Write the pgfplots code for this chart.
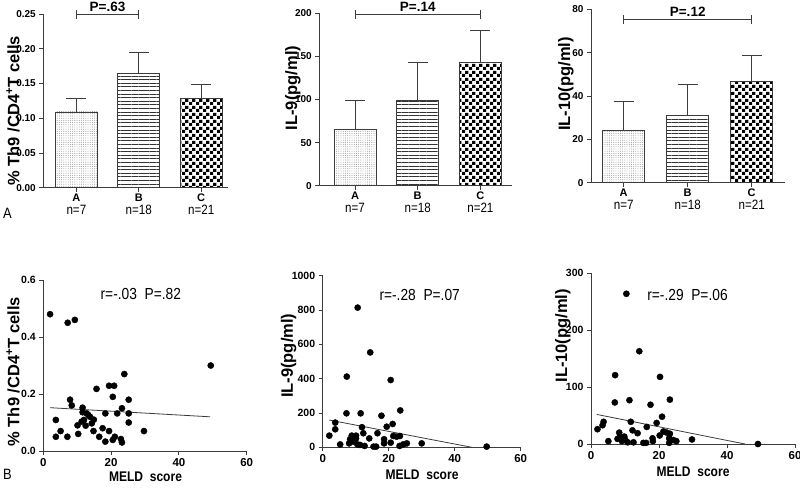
\documentclass[border=0pt]{standalone}
\usepackage{fontspec}
\setmainfont{Liberation Sans}
\usepackage{graphicx}
\usepackage{pgfplots}
\pgfplotsset{compat=1.18}
\usetikzlibrary{patterns,patterns.meta}

\definecolor{edge}{RGB}{60,60,60}
\newcommand{\narrow}[1]{\scalebox{0.86}[1]{#1}}
\newcommand{\cat}[2]{{\fontsize{11}{12}\selectfont\bfseries #1}\\[1pt]{\fontsize{13.5}{15}\selectfont\narrow{n=#2}}}

\tikzdeclarepattern{
  name=checker,
  type=uncolored,
  bounding box={(0pt,0pt) and (7pt,7pt)},
  tile size={(7pt,7pt)},
  code={\fill (0pt,0pt) rectangle (3.5pt,3.5pt); \fill (3.5pt,3.5pt) rectangle (7pt,7pt);}
}

\pgfplotsset{
  panel/.style={
    scale only axis,
    axis lines=left,
    axis line style={edge, line width=0.9pt, -},
    tick style={edge, line width=0.9pt},
    tick align=outside,
    major tick length=4pt,
    clip=false,
  },
  barpanel/.style={
    panel,
    xtick={0,1,2},
    xticklabels={\cat{A}{7},\cat{B}{18},\cat{C}{21}},
    xticklabel style={align=center, inner sep=2pt},
    yticklabel style={font=\fontsize{10}{11}\selectfont\bfseries},
  },
  scatpanel/.style={
    panel,
    xmin=0, xmax=60,
    xtick={0,20,40,60},
    xticklabels={0,20,40,60},
    xticklabel style={font=\fontsize{11.5}{12}\selectfont\bfseries},
    yticklabel style={font=\fontsize{10.5}{11}\selectfont\bfseries},
  },
  bar/.style={ybar, bar shift=0pt, bar width=42pt, draw=edge, line width=0.9pt,
    /pgfplots/error bars/y dir=plus,
    /pgfplots/error bars/y explicit,
    /pgfplots/error bars/error bar style={edge, line width=0.9pt},
    /pgfplots/error bars/error mark options={edge, line width=0.9pt, mark size=10pt, rotate=90}},
  barA/.style={bar, pattern={Dots[distance=2.2pt,radius=0.45pt]}, pattern color=black!50},
  barB/.style={bar, pattern={Lines[angle=0,distance=3.6pt,line width=0.8pt]}, pattern color=black!80},
  barC/.style={bar, pattern=checker, pattern color=black},
  dots/.style={only marks, mark=*, mark size=3.1pt, black},
  fit/.style={edge, line width=0.8pt, no marks},
}

\begin{document}
\begin{tikzpicture}
\useasboundingbox (0pt,0pt) rectangle (800pt,-490pt);

% ---- top row: bars ----
\begin{axis}[barpanel, at={(43.3pt,-187.7pt)}, anchor=south west,
  width=184.7pt, height=173.7pt,
  xmin=-0.53, xmax=2.43, ymin=0, ymax=0.25,
  ytick={0,0.05,0.10,0.15,0.20,0.25},
  yticklabels={0.00,0.05,0.10,0.15,0.20,0.25}]
\addplot[barA] coordinates {(0,0.109) +- (0,0.019)};
\addplot[barB] coordinates {(1,0.164) +- (0,0.031)};
\addplot[barC] coordinates {(2,0.128) +- (0,0.020)};
\draw[edge, line width=0.9pt] (axis cs:0,0.249) -- (axis cs:1,0.249)
  ([yshift=-4.5pt]axis cs:0,0.249) -- ([yshift=4.5pt]axis cs:0,0.249)
  ([yshift=-4.5pt]axis cs:1,0.249) -- ([yshift=4.5pt]axis cs:1,0.249);
\node[anchor=base, font=\fontsize{13.5}{15}\selectfont\bfseries] at ([yshift=3pt]axis cs:0.5,0.249) {P=.63};
\end{axis}

\begin{axis}[barpanel, at={(319.3pt,-185.7pt)}, anchor=south west,
  width=192.4pt, height=172.4pt,
  xmin=-0.57, xmax=2.5, ymin=0, ymax=200,
  ytick={0,50,100,150,200},
  yticklabels={0,50,100,150,200}]
\addplot[barA] coordinates {(0,65) +- (0,34.4)};
\addplot[barB] coordinates {(1,99.4) +- (0,43.6)};
\addplot[barC] coordinates {(2,143.5) +- (0,36.5)};
\draw[edge, line width=0.9pt] (axis cs:0,198.5) -- (axis cs:2,198.5)
  ([yshift=-4.5pt]axis cs:0,198.5) -- ([yshift=4.5pt]axis cs:0,198.5)
  ([yshift=-4.5pt]axis cs:2,198.5) -- ([yshift=4.5pt]axis cs:2,198.5);
\node[anchor=base, font=\fontsize{13.5}{15}\selectfont\bfseries] at ([yshift=3pt]axis cs:1,198.5) {P=.14};
\end{axis}

\begin{axis}[barpanel, at={(591pt,-182.7pt)}, anchor=south west,
  width=194pt, height=173.4pt,
  xmin=-0.51, xmax=2.52, ymin=0, ymax=80,
  ytick={0,20,40,60,80},
  yticklabels={0,20,40,60,80}]
\addplot[barA] coordinates {(0,24.3) +- (0,13.4)};
\addplot[barB] coordinates {(1,31.2) +- (0,14.2)};
\addplot[barC] coordinates {(2,46.9) +- (0,11.6)};
\draw[edge, line width=0.9pt] (axis cs:0,75.5) -- (axis cs:2,75.5)
  ([yshift=-4.5pt]axis cs:0,75.5) -- ([yshift=4.5pt]axis cs:0,75.5)
  ([yshift=-4.5pt]axis cs:2,75.5) -- ([yshift=4.5pt]axis cs:2,75.5);
\node[anchor=base, font=\fontsize{13.5}{15}\selectfont\bfseries] at ([yshift=3pt]axis cs:1,75.5) {P=.12};
\end{axis}

% ---- bottom row: scatter ----
\begin{axis}[scatpanel, at={(43.3pt,-451pt)}, anchor=south west,
  width=203.4pt, height=171pt,
  ymin=0, ymax=0.6,
  ytick={0,0.2,0.4,0.6},
  yticklabels={0.0,0.2,0.4,0.6}]
\addplot[dots] coordinates {
(2,0.48) (7.2,0.45) (9.3,0.46) (49.4,0.30) (23.9,0.27) (15.7,0.218)
(19.4,0.229) (20.9,0.229) (20.5,0.19) (7.9,0.18) (8.4,0.16) (25.2,0.18)
(11.6,0.152) (11.6,0.136) (12.8,0.132) (23.2,0.15) (18.3,0.132) (21.8,0.132)
(25.2,0.132) (13.8,0.12) (12.0,0.109) (3.7,0.109) (14.3,0.097) (12.5,0.089)
(10.1,0.09) (25.2,0.10) (14.8,0.07) (17.5,0.08) (19.4,0.07) (5.1,0.07)
(29.7,0.07) (10.3,0.06) (3.7,0.05) (7.1,0.05) (16.5,0.05) (21.1,0.05)
(20.5,0.039) (22.9,0.042) (18.3,0.033) (23.2,0.03) (13.3,0.126) (11.3,0.103)
(14.9,0.11)
};
\addplot[fit] coordinates {(2,0.152) (49.2,0.12)};
\end{axis}

\begin{axis}[scatpanel, at={(322.7pt,-447.3pt)}, anchor=south west,
  width=198pt, height=171.6pt,
  ymin=0, ymax=1000,
  ytick={0,200,400,600,800,1000},
  yticklabels={0,200,400,600,800,1000}]
\addplot[dots] coordinates {
(10.6,814) (14.4,553) (7.3,412) (20.6,392) (7.2,198) (11.5,198)
(23.5,215) (17.8,184) (2,68) (3.8,144) (3.8,105) (5.3,17)
(8,23) (8.8,68) (10.1,68) (11.9,117) (12.3,82) (14.1,52)
(16.6,82) (19.4,120) (21.2,136) (21.4,66) (22.4,62) (23.4,66)
(23.3,8) (25.5,23) (30,23) (49.7,4) (9.3,33) (10.5,17)
(11.3,14) (12.7,8) (15.4,4) (16.2,4) (18.6,23) (18.6,47)
(20.6,27) (24.4,17) (10.1,52) (8.3,47)
};
\addplot[fit] coordinates {(2,159) (45.2,0)};
\end{axis}

\begin{axis}[scatpanel, at={(591pt,-444pt)}, anchor=south west,
  width=204pt, height=170.7pt,
  ymin=0, ymax=300,
  ytick={0,100,200,300},
  yticklabels={0,100,200,300}]
\addplot[dots] coordinates {
(10.4,264) (14.2,163) (7.1,121) (20.3,118) (7.0,73) (11.3,77)
(23.2,78) (17.5,69) (1.9,26) (3.7,39) (3.4,33) (5.1,5)
(7.8,9) (8.3,20) (9.8,13) (11.7,39) (12.2,24) (13.7,19)
(16.4,30) (19.3,37) (20.9,48) (21.3,22) (22.3,20) (23.2,18)
(23,10) (25.1,5) (29.7,8) (49.1,0) (12.5,3) (15.4,2)
(16.2,2) (18.2,5) (18.1,10) (23,2) (20.2,15) (9.1,5)
(10.8,3) (8.5,13) (10.1,7) (24.2,7)
};
\addplot[fit] coordinates {(1.7,52) (45.3,0)};
\end{axis}

% ---- labels ----
\begin{scope}[every node/.style={inner sep=0pt}]
\node[rotate=90, font=\fontsize{16.5}{18}\selectfont\bfseries] at (13pt,-110.8pt) {\% Th9 /CD4\textsuperscript{+}T cells};
\node[rotate=90, font=\fontsize{16.5}{18}\selectfont\bfseries] at (293pt,-88pt) {IL-9(pg/ml)};
\node[rotate=90, font=\fontsize{16.5}{18}\selectfont\bfseries] at (566pt,-84pt) {IL-10(pg/ml)};
\node[rotate=90, font=\fontsize{16.5}{18}\selectfont\bfseries] at (13pt,-371.7pt) {\% Th9 /CD4\textsuperscript{+}T cells};
\node[rotate=90, font=\fontsize{16.5}{18}\selectfont\bfseries] at (288.7pt,-355.8pt) {IL-9(pg/ml)};
\node[rotate=90, font=\fontsize{16.5}{18}\selectfont\bfseries] at (563pt,-335.8pt) {IL-10(pg/ml)};

\node[font=\fontsize{14}{16}\selectfont\bfseries] at (145.5pt,-477pt) {\narrow{MELD\ \ score}};
\node[font=\fontsize{14}{16}\selectfont\bfseries] at (422pt,-475pt) {\narrow{MELD\ \ score}};
\node[font=\fontsize{14}{16}\selectfont\bfseries] at (693pt,-472pt) {\narrow{MELD\ \ score}};

\node[font=\fontsize{16}{18}\selectfont] at (140.8pt,-293.7pt) {\narrow{r=-.03\ \ P=.82}};
\node[font=\fontsize{16}{18}\selectfont] at (419.7pt,-295pt) {\narrow{r=-.28\ \ P=.07}};
\node[font=\fontsize{16}{18}\selectfont] at (687.5pt,-295pt) {\narrow{r=-.29\ \ P=.06}};

\node[font=\fontsize{15}{17}\selectfont] at (7.5pt,-213.5pt) {\narrow{A}};
\node[font=\fontsize{15}{17}\selectfont] at (7.5pt,-474pt) {\narrow{B}};
\end{scope}
\end{tikzpicture}
\end{document}
